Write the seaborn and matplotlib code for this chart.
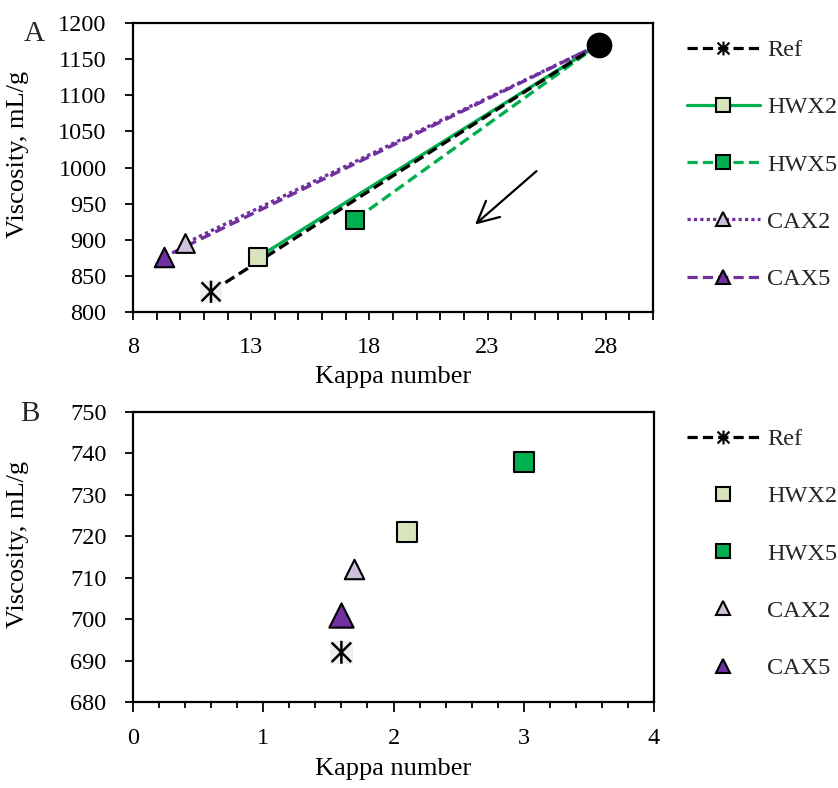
import numpy as np
import pandas as pd
import matplotlib
matplotlib.use("Agg")
import matplotlib.pyplot as plt
from matplotlib.path import Path
from matplotlib.lines import Line2D
from matplotlib.ticker import FixedLocator, MultipleLocator
import seaborn as sns

# ---- data -------------------------------------------------------------
series = ["Ref", "HWX2", "HWX5", "CAX2", "CAX5"]

# unbleached starting pulp (common origin of all series in panel A)
kappa_start = 27.7
visc_start = 1170

# panel A: after the first bleaching stage
kappa_a = [11.3, 13.3, 17.4, 10.2, 9.3]
visc_a = [828, 876, 928, 895, 876]

# panel B: fully bleached pulps
kappa_b = [1.6, 2.1, 3.0, 1.7, 1.6]
visc_b = [692, 721, 738, 712, 701]

xticks_a = [8, 13, 18, 23, 28]
yticks_a = [800, 850, 900, 950, 1000, 1050, 1100, 1150, 1200]
xticks_b = [0, 1, 2, 3, 4]
yticks_b = [680, 690, 700, 710, 720, 730, 740, 750]

# ---- styling ----------------------------------------------------------
sns.set_theme(style="white")
plt.rcParams["font.family"] = ["Liberation Serif", "DejaVu Serif"]

FS = 17.5
GREEN = "#00B050"
PURPLE = "#7030A0"

# six-armed asterisk: vertical bar plus an X
star = Path(
    [(0, -1), (0, 1), (-0.85, -0.85), (0.85, 0.85), (-0.85, 0.85), (0.85, -0.85)],
    [Path.MOVETO, Path.LINETO, Path.MOVETO, Path.LINETO, Path.MOVETO, Path.LINETO],
)

style = {
    "Ref":  dict(color="black", ls=(0, (3.2, 1.6)), marker=star, face="none", z=2.6),
    "HWX2": dict(color=GREEN, ls="-", marker="s", face="#D8E4BC", z=2.1),
    "HWX5": dict(color=GREEN, ls=(0, (3.2, 1.6)), marker="s", face=GREEN, z=2.2),
    "CAX2": dict(color=PURPLE, ls=(0, (1.0, 1.0)), marker="^", face="#CCC0DA", z=2.3),
    "CAX5": dict(color=PURPLE, ls=(0, (3.2, 1.6)), marker="^", face=PURPLE, z=2.4),
}
msize_a = {"Ref": 16, "HWX2": 13.5, "HWX5": 13.5, "CAX2": 13.5, "CAX5": 14}
msize_b = {"Ref": 16.5, "HWX2": 14, "HWX5": 14, "CAX2": 14, "CAX5": 17.5}

fig = plt.figure(figsize=(8.38, 7.88), dpi=100)
fig.patch.set_facecolor("white")
ax_a = fig.add_axes([133 / 838, 1 - 312 / 788, 520 / 838, 289 / 788])
ax_b = fig.add_axes([133 / 838, 1 - 702 / 788, 521 / 838, 290 / 788])


def draw_markers(ax, name, x, y, size):
    st = style[name]
    if name == "Ref":
        # pale backing square behind the asterisk
        sns.scatterplot(x=[x], y=[y], ax=ax, marker="s", s=(size * 0.98) ** 2,
                        color="#EFEFEF", edgecolor="none", linewidth=0, zorder=3)
        sns.scatterplot(x=[x], y=[y], ax=ax, marker=star, s=size ** 2,
                        facecolor="none", edgecolor="black", linewidth=1.8, zorder=4)
    else:
        sns.scatterplot(x=[x], y=[y], ax=ax, marker=st["marker"], s=size ** 2,
                        color=st["face"], edgecolor="black", linewidth=1.5, zorder=4)


# ---- panel A ----------------------------------------------------------
for i, name in enumerate(series):
    st = style[name]
    df = pd.DataFrame({"kappa": [kappa_start, kappa_a[i]], "visc": [visc_start, visc_a[i]]})
    sns.lineplot(data=df, x="kappa", y="visc", ax=ax_a, sort=False, color=st["color"],
                 linestyle=st["ls"], linewidth=2.4, zorder=st["z"])
for i, name in enumerate(series):
    draw_markers(ax_a, name, kappa_a[i], visc_a[i], msize_a[name])

sns.scatterplot(x=[kappa_start], y=[visc_start], ax=ax_a, marker="o", s=18.5 ** 2,
                color="black", edgecolor="black", linewidth=0, zorder=5)

ax_a.annotate("", xy=(22.47, 921), xytext=(25.07, 995),
              arrowprops=dict(arrowstyle="->,head_length=0.7,head_width=0.35",
                              lw=1.6, color="black", mutation_scale=22,
                              shrinkA=0, shrinkB=0))

ax_a.set_xlim(8, 30)
ax_a.set_ylim(800, 1200)
ax_a.xaxis.set_major_locator(FixedLocator(xticks_a))
ax_a.xaxis.set_minor_locator(MultipleLocator(1))
ax_a.set_yticks(yticks_a)
ax_a.tick_params(axis="x", which="both", direction="out", length=6, width=1.3,
                 bottom=True, labelsize=FS, pad=12, color="black")
ax_a.tick_params(axis="y", which="major", direction="out", length=6, width=1.3,
                 left=True, labelsize=FS, pad=13, color="black")

# ---- panel B ----------------------------------------------------------
for i, name in enumerate(series):
    draw_markers(ax_b, name, kappa_b[i], visc_b[i], msize_b[name])

ax_b.set_xlim(0, 4)
ax_b.set_ylim(680, 750)
ax_b.set_xticks(xticks_b)
ax_b.xaxis.set_minor_locator(MultipleLocator(0.2))
ax_b.set_yticks(yticks_b)
ax_b.tick_params(axis="x", which="major", direction="out", length=7, width=1.3,
                 bottom=True, labelsize=FS, pad=12, color="black")
ax_b.tick_params(axis="x", which="minor", direction="out", length=4, width=1.3,
                 bottom=True, color="black")
ax_b.tick_params(axis="y", which="major", direction="out", length=6, width=1.3,
                 left=True, labelsize=FS, pad=13, color="black")

for ax in (ax_a, ax_b):
    for sp in ax.spines.values():
        sp.set_visible(True)
        sp.set_color("black")
        sp.set_linewidth(1.6)
    ax.set_xlabel("Kappa number", fontsize=19, labelpad=6, color="black")
    ax.set_ylabel("Viscosity, mL/g", fontsize=19, color="black")
    ax.yaxis.set_label_coords(-0.2, 0.545)
    ax.grid(False)
    for lab in ax.get_xticklabels() + ax.get_yticklabels():
        lab.set_color("black")

fig.text(34 / 838, 1 - 34 / 788, "A", fontsize=21, ha="center", va="center")
fig.text(30 / 838, 1 - 414 / 788, "B", fontsize=21, ha="center", va="center")


# ---- legends ----------------------------------------------------------
def handle(name, with_line):
    st = style[name]
    if name == "Ref":
        return Line2D([], [], color="black", linestyle=st["ls"], linewidth=2.3,
                      marker=star, markersize=10, markeredgewidth=1.6,
                      markerfacecolor="none", markeredgecolor="black")
    return Line2D([], [], color=st["color"] if with_line else "none",
                  linestyle=st["ls"] if with_line else "none", linewidth=2.3,
                  marker=st["marker"], markersize=10.5, markerfacecolor=st["face"],
                  markeredgecolor="black", markeredgewidth=1.5)


legend_kw = dict(loc="upper left", frameon=False, borderpad=0, borderaxespad=0,
                 handlelength=3.0, handletextpad=0.3, labelspacing=1.45,
                 fontsize=FS)
fig.legend([handle(n, True) for n in series], series,
           bbox_to_anchor=(687 / 838, 1 - 39 / 788), **legend_kw)
fig.legend([handle(n, n == "Ref") for n in series], series,
           bbox_to_anchor=(687 / 838, 1 - 428 / 788), **legend_kw)

fig.savefig("out.png", dpi=100, facecolor="white")
